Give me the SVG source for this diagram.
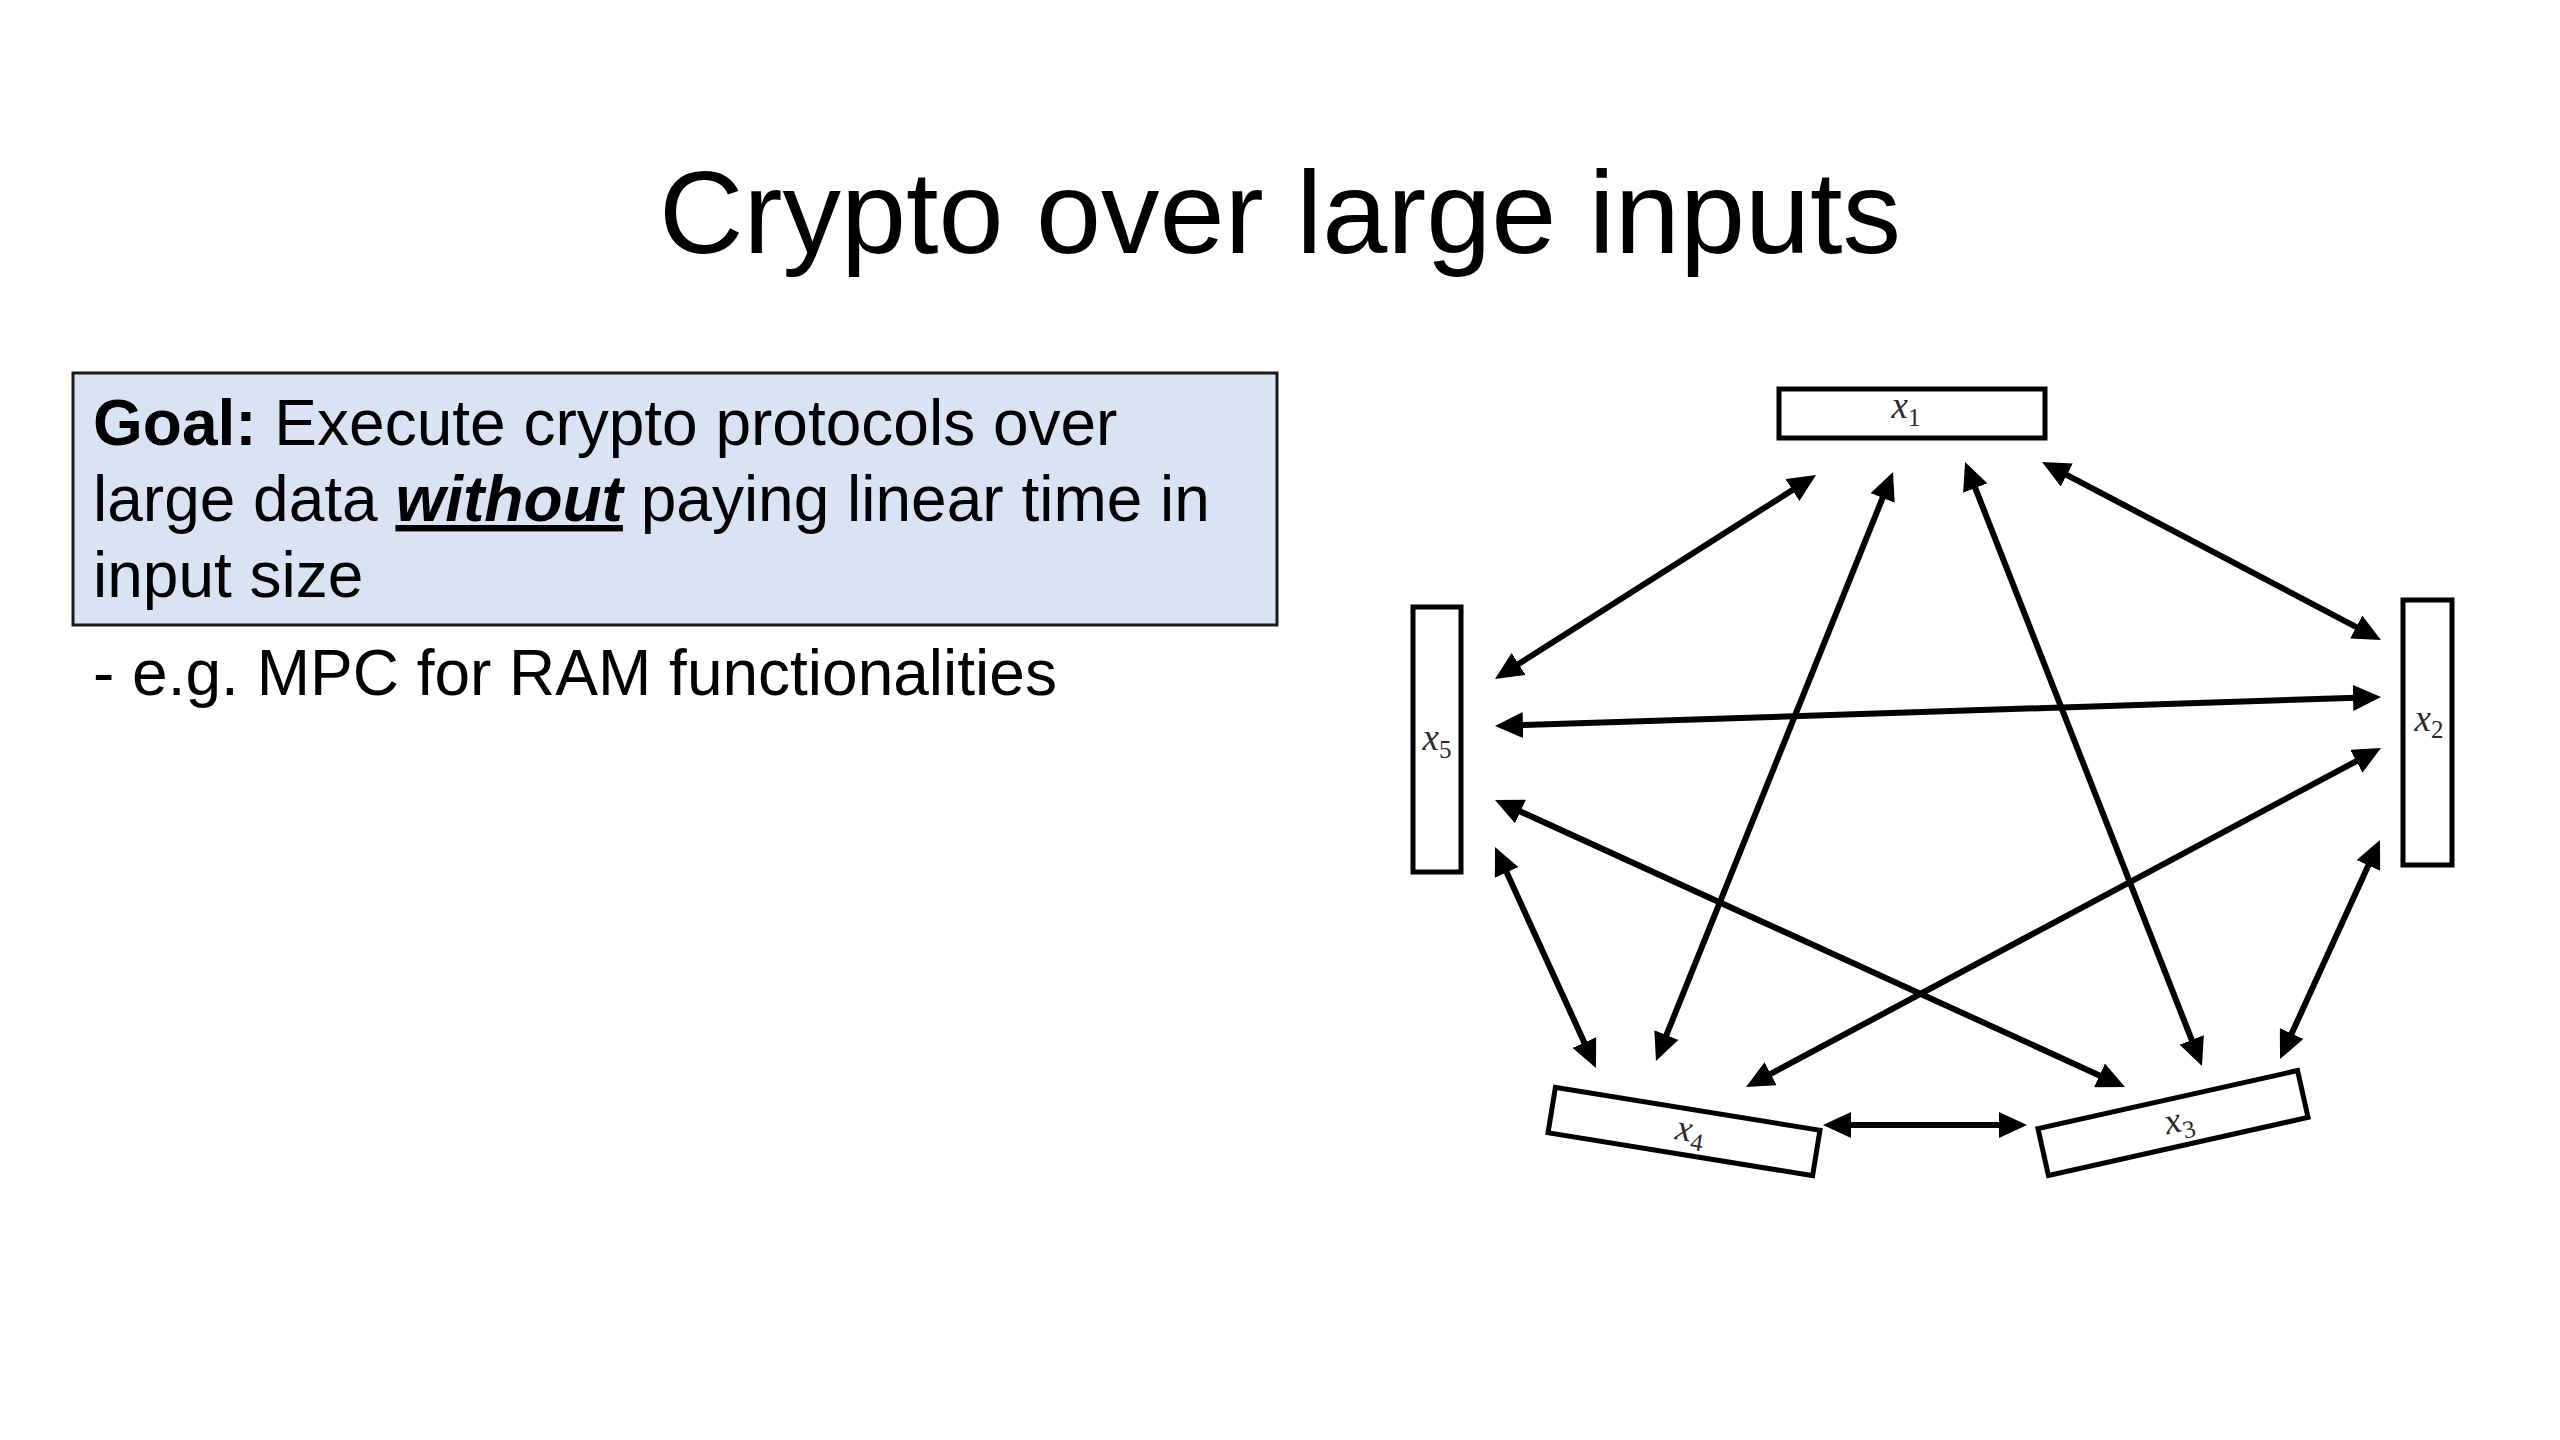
<svg xmlns="http://www.w3.org/2000/svg" width="2560" height="1440" viewBox="0 0 2560 1440">
<style>
.title{font-family:"Liberation Sans",Arial,sans-serif;font-size:117px;fill:#000}
.body{font-family:"Liberation Sans",Arial,sans-serif;font-size:64px;fill:#000}
.box{fill:#fff;stroke:#000;stroke-width:5}
.goal{fill:#dae3f3;stroke:#1a1a1a;stroke-width:3}
.lbl{font-family:"Liberation Serif","DejaVu Serif",serif;font-size:37px;fill:#2a2a2a}
.lbl .v{font-style:italic}
.lbl .s{font-size:25px}
.conn line{stroke:#000;stroke-width:6;marker-start:url(#ah);marker-end:url(#ah)}
</style>
<defs>
<marker id="ah" markerUnits="userSpaceOnUse" markerWidth="28" markerHeight="26" viewBox="0 0 28 26" refX="18" refY="13" orient="auto-start-reverse">
<path d="M0,0 L28,13 L0,26 z" fill="#000"/>
</marker>
</defs>
<rect width="2560" height="1440" fill="#fff"/>
<text class="title" x="1280" y="253" text-anchor="middle">Crypto over large inputs</text>
<g id="goal">
<rect class="goal" x="73" y="373" width="1204" height="252"/>
<text class="body" x="93" y="445"><tspan font-weight="bold">Goal:</tspan> Execute crypto protocols over</text>
<text class="body" x="93" y="521">large data <tspan font-weight="bold" font-style="italic" text-decoration="underline">without</tspan> paying linear time in</text>
<text class="body" x="93" y="597">input size</text>
</g>
<text id="example" class="body" x="93" y="695">- e.g. MPC for RAM functionalities</text>
<g id="x1">
<rect class="box" x="1779" y="389" width="266" height="49"/>
<text class="lbl" x="1906" y="418" text-anchor="middle"><tspan class="v">x</tspan><tspan class="s" dy="8">1</tspan></text>
</g>
<g id="x2">
<rect class="box" x="2403" y="600" width="49" height="265"/>
<text class="lbl" x="2429" y="731" text-anchor="middle"><tspan class="v">x</tspan><tspan class="s" dy="7">2</tspan></text>
</g>
<g id="x3" transform="translate(2173,1123) rotate(-12.6)">
<rect class="box" x="-133" y="-24" width="266" height="48"/>
<text class="lbl" x="6" y="10" text-anchor="middle"><tspan class="v">x</tspan><tspan class="s" dy="8">3</tspan></text>
</g>
<g id="x4" transform="translate(1684,1131.5) rotate(9.2)">
<rect class="box" x="-134" y="-23" width="268" height="46"/>
<text class="lbl" x="6" y="9" text-anchor="middle"><tspan class="v">x</tspan><tspan class="s" dy="8">4</tspan></text>
</g>
<g id="x5">
<rect class="box" x="1413" y="607" width="48" height="265"/>
<text class="lbl" x="1437" y="750" text-anchor="middle"><tspan class="v">x</tspan><tspan class="s" dy="8">5</tspan></text>
</g>
<g id="connectors" class="conn">
<line x1="1807.6" y1="480.4" x2="1503.4" y2="673.6"/>
<line x1="1889.3" y1="481.3" x2="1659.7" y2="1051.7"/>
<line x1="1968.7" y1="471.3" x2="2198.3" y2="1056.7"/>
<line x1="2050.9" y1="466.6" x2="2372.1" y2="635.4"/>
<line x1="1505" y1="725.7" x2="2371" y2="697.3"/>
<line x1="1504.1" y1="804.1" x2="2115.9" y2="1082.9"/>
<line x1="2372.2" y1="752.7" x2="1754.8" y2="1082.3"/>
<line x1="1499.2" y1="856.1" x2="1591.8" y2="1058.9"/>
<line x1="2375.8" y1="849.1" x2="2284.2" y2="1049.9"/>
<line x1="1833" y1="1125" x2="2017" y2="1125"/>
</g>
</svg>
